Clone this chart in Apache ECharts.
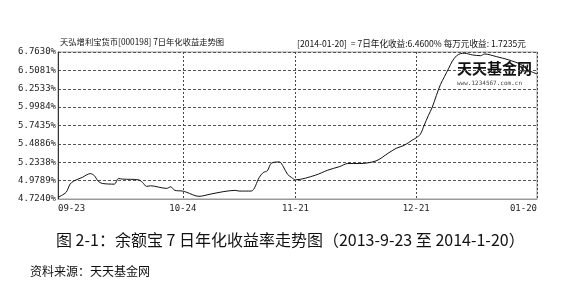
<!DOCTYPE html>
<html><head><meta charset="utf-8">
<script src="https://cdn.jsdelivr.net/npm/echarts@6/dist/echarts.min.js"></script>
<style>html,body{margin:0;padding:0;background:#fff}#c{width:565px;height:290px}</style>
</head><body><div id="c"></div>
<script>
// Sample dates (2013-09-23 .. 2014-01-20) and 7-day annualised yield (%)
const sampleDates = ['2013-09-23','2013-09-25','2013-09-26','2013-09-27','2013-09-29','2013-10-01','2013-10-02','2013-10-03','2013-10-04','2013-10-07','2013-10-08','2013-10-09','2013-10-13','2013-10-14','2013-10-15','2013-10-16','2013-10-20','2013-10-21','2013-10-22','2013-10-24','2013-10-25','2013-10-28','2013-10-31','2013-11-03','2013-11-06','2013-11-07','2013-11-10','2013-11-12','2013-11-13','2013-11-14','2013-11-15','2013-11-17','2013-11-18','2013-11-19','2013-11-20','2013-11-21','2013-11-26','2013-11-29','2013-12-02','2013-12-04','2013-12-07','2013-12-11','2013-12-14','2013-12-16','2013-12-18','2013-12-20','2013-12-21','2013-12-22','2013-12-23','2013-12-24','2013-12-25','2013-12-26','2013-12-27','2013-12-28','2013-12-29','2013-12-30','2013-12-31','2014-01-01','2014-01-02','2014-01-04','2014-01-06','2014-01-07','2014-01-10','2014-01-13','2014-01-16','2014-01-18','2014-01-20'];
const sampleValues = [4.747,4.816,4.930,4.976,5.023,5.076,5.050,4.970,4.940,4.930,5.009,5.000,4.990,4.954,4.899,4.907,4.871,4.893,4.845,4.834,4.816,4.761,4.793,4.825,4.844,4.834,4.834,5.023,5.092,5.114,5.220,5.238,5.170,5.068,5.023,4.990,5.055,5.124,5.174,5.216,5.216,5.252,5.358,5.427,5.468,5.540,5.574,5.620,5.750,5.880,6.000,6.160,6.310,6.420,6.530,6.640,6.710,6.740,6.745,6.722,6.712,6.735,6.698,6.653,6.590,6.505,6.460];
const startDate = '2013-09-23', endDate = '2014-01-20';
const xTickLabels = ['09-23','10-24','11-21','12-21','01-20'];
const yTickLabels = ['4.7240%','4.9789%','5.2338%','5.4886%','5.7435%','5.9984%','6.2533%','6.5081%','6.7630%'];
const yMin = 4.7240, yMax = 6.7630;

// build the full daily category list
const cats = [];
{
  let d = new Date(startDate + 'T00:00:00Z');
  const e = new Date(endDate + 'T00:00:00Z');
  while (d <= e) { cats.push(d.toISOString().slice(0,10)); d = new Date(d.getTime() + 86400000); }
}
const catLabel = s => s.slice(5);
const lookup = {};
sampleDates.forEach((d,i)=>lookup[d]=sampleValues[i]);
const seriesData = cats.map(c => lookup[c] !== undefined ? +(lookup[c]-yMin).toFixed(4) : null);
const tickIdx = new Set(cats.map((c,i)=>xTickLabels.includes(catLabel(c)) ? i : -1).filter(i=>i>=0));
const yInterval = (yMax - yMin) / (yTickLabels.length - 1);

const chart = echarts.init(document.getElementById('c'), null, {renderer:'canvas'});
chart.setOption({
  animation:false,
  backgroundColor:'#fff',
  grid:{left:58, right:28, top:52, bottom:91, show:true, borderColor:'#999', borderWidth:1},
  xAxis:{type:'category', data:cats, boundaryGap:false,
    axisLine:{show:true, lineStyle:{color:'#999'}},
    axisTick:{show:false},
    axisLabel:{interval:(i)=>tickIdx.has(i), formatter:v=>catLabel(v), color:'#222', fontSize:9,
      fontFamily:'DejaVu Sans Mono', margin:5, alignMinLabel:'left', alignMaxLabel:'right'},
    splitLine:{show:true, interval:(i)=>tickIdx.has(i), lineStyle:{color:'#444', type:[2,2], width:1}}
  },
  yAxis:{type:'value', min:0, max:+(yMax-yMin).toFixed(4), interval:yInterval,
    axisLine:{show:true, lineStyle:{color:'#333'}},
    axisTick:{show:false},
    axisLabel:{formatter:v=>yTickLabels[Math.round(v/yInterval)]||'', color:'#222', fontSize:9,
      fontFamily:'DejaVu Sans Mono', margin:2},
    splitLine:{show:true, lineStyle:{color:'#555', type:[3,2], width:1}}
  },
  series:[{type:'line', data:seriesData, connectNulls:true, showSymbol:false, smooth:0.3,
    lineStyle:{color:'#111', width:1}}],
  graphic:[
    {type:'text', left:60, top:38, style:{text:'天弘增利宝货币[000198] 7日年化收益走势图', font:'8.3px "Noto Sans CJK SC"', fill:'#111'}},
    {type:'text', left:297, top:39, style:{text:'[2014-01-20]  = 7日年化收益:6.4600% 每万元收益: 1.7235元', font:'8.6px "Noto Sans CJK SC"', fill:'#111'}},
    {type:'text', left:457, top:61, style:{text:'天天基金网', font:'bold 15px "Noto Sans CJK SC"', fill:'#111'}},
    {type:'text', left:457, top:80, style:{text:'www.1234567.com.cn', font:'6px "DejaVu Sans Mono"', fill:'#444'}},
    {type:'text', left:56, top:232, style:{text:'图 2-1：余额宝 7 日年化收益率走势图（2013-9-23 至 2014-1-20）', font:'16px "Noto Sans CJK SC"', fill:'#111'}},
    {type:'text', left:30, top:265, style:{text:'资料来源：天天基金网', font:'12px "Noto Sans CJK SC"', fill:'#111'}}
  ]
});
</script></body></html>
